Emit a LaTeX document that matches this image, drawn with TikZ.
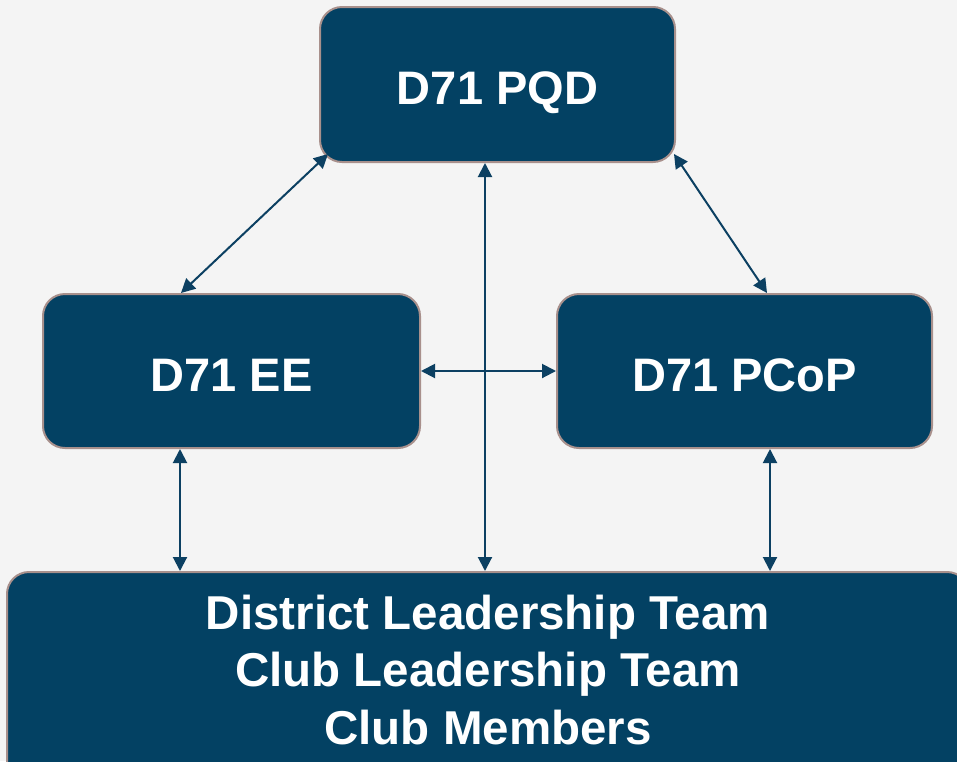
\documentclass[tikz,border=0pt]{standalone}
\usepackage{fontspec}
\setmainfont{Liberation Sans}
\usetikzlibrary{arrows.meta,calc}
\definecolor{boxblue}{RGB}{3,65,99}
\definecolor{boxedge}{RGB}{168,144,140}
\definecolor{arrblue}{RGB}{12,64,98}
\definecolor{bg}{RGB}{244,244,244}
\tikzset{
  blockbox/.style={draw=boxedge, line width=2pt, fill=boxblue, rounded corners=22pt,
    text=white, font=\fontsize{47}{57.5}\selectfont\bfseries, inner sep=0pt,
    text height=40pt, text depth=0pt},
  arr/.style={draw=arrblue, line width=2pt, {Triangle[length=14pt,width=14pt]}-{Triangle[length=14pt,width=14pt]}},
  lbl/.style={text=white, font=\fontsize{47.5}{57.5}\selectfont\bfseries, align=center, inner sep=0pt}
}
\begin{document}
\begin{tikzpicture}[x=1pt,y=-1pt]
\fill[bg] (0,0) rectangle (957,761);
\useasboundingbox (0,0) rectangle (957,761);
\clip (0,0) rectangle (957,761);
\node[blockbox, minimum width=355pt, minimum height=155pt] (pqd) at (497.5,84.5) {D71 PQD};
\node[blockbox, minimum width=377pt, minimum height=154pt] (ee) at (231.5,371) {D71 EE};
\node[blockbox, minimum width=375pt, minimum height=154pt] (pcop) at (744.5,371) {D71 PCoP};
\node[blockbox, minimum width=962pt, minimum height=220pt] (base) at (488,682) {};
\node[lbl] (basetext) at (488,670) {District Leadership Team\\Club Leadership Team\\Club Members};
% helper coordinates
\coordinate (pqdsw) at ([xshift=9pt,yshift=9pt]pqd.south west);
\coordinate (pqdse) at ([xshift=-2pt,yshift=9pt]pqd.south east);
\coordinate (pqdb) at ([xshift=-12.5pt]pqd.south);
\coordinate (eet) at ([xshift=139pt]ee.north west);
\coordinate (pcopt) at ([xshift=211pt]pcop.north west);
\coordinate (eeb) at ([xshift=138pt]ee.south west);
\coordinate (pcopb) at ([xshift=214pt]pcop.south west);
% connectors
\draw[arr] (pqdsw) -- (eet);
\draw[arr] (pqdse) -- (pcopt);
\draw[arr] (pqdb) -- (pqdb |- base.north);
\draw[arr] (ee.east) -- (pcop.west);
\draw[arr] (eeb) -- (eeb |- base.north);
\draw[arr] (pcopb) -- (pcopb |- base.north);
\end{tikzpicture}
\end{document}
